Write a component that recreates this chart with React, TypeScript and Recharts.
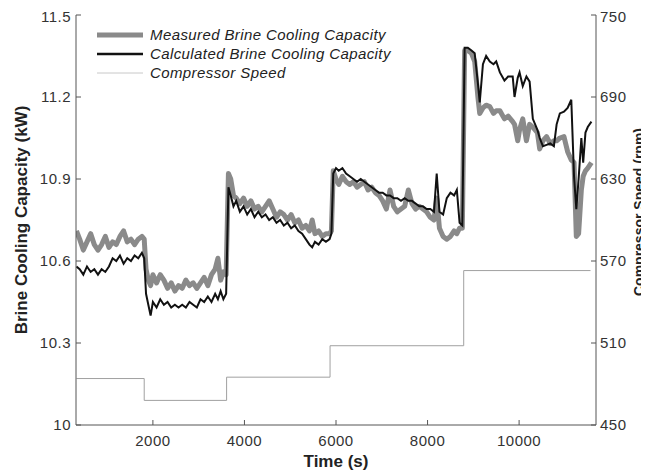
import React from 'react';
import { ComposedChart, Line, XAxis, YAxis } from 'recharts';

// time stamps (s) shared by the two brine cooling capacity series
const timeSec = [
  330, 400, 480, 560, 640, 720, 800, 880, 960, 1040, 1120, 1200, 1280, 1360, 1440, 1520, 1600, 1680, 1760, 1810,
  1850, 1900, 1950, 2000, 2080, 2160, 2240, 2320, 2400, 2480, 2560, 2640, 2720, 2800, 2880, 2960, 3040, 3120, 3200, 3280,
  3360, 3420, 3480, 3540, 3600,
  3650, 3700, 3760, 3820, 3900, 3980, 4060, 4140, 4220, 4300, 4380, 4460, 4540, 4620, 4700, 4780, 4860, 4940, 5020, 5100,
  5180, 5260, 5340, 5420, 5480, 5540, 5620, 5700, 5780, 5860, 5900,
  5940, 6000, 6060, 6140, 6220, 6300, 6380, 6460, 6540, 6620, 6700, 6780, 6860, 6940, 7020, 7100, 7180, 7260, 7340, 7420,
  7500, 7580, 7660, 7740, 7820, 7900, 7980, 8060, 8140, 8200, 8260, 8340, 8420, 8500, 8580, 8640, 8700, 8760,
  8810, 8880, 8960, 9030, 9100, 9140, 9210, 9280, 9360, 9440, 9500, 9580, 9680, 9760, 9860, 9900, 9970, 10010, 10080, 10160,
  10230, 10300, 10400, 10450, 10520, 10600, 10680, 10760, 10820, 10890, 10980, 11060, 11140, 11200, 11250, 11300, 11360, 11400, 11450, 11500,
  11580,
];

const measuredKw = [
  10.71, 10.68, 10.64, 10.67, 10.70, 10.66, 10.64, 10.66, 10.69, 10.65, 10.67, 10.66, 10.69, 10.71, 10.67, 10.68, 10.66, 10.68, 10.69, 10.68,
  10.57, 10.53, 10.51, 10.55, 10.52, 10.55, 10.53, 10.50, 10.52, 10.49, 10.51, 10.50, 10.53, 10.51, 10.52, 10.50, 10.52, 10.54, 10.51, 10.55,
  10.57, 10.61, 10.53, 10.56, 10.55,
  10.92, 10.90, 10.84, 10.83, 10.81, 10.83, 10.80, 10.82, 10.79, 10.80, 10.78, 10.80, 10.82, 10.79, 10.76, 10.78, 10.77, 10.75, 10.77, 10.74,
  10.75, 10.72, 10.73, 10.71, 10.75, 10.70, 10.71, 10.69, 10.70, 10.70, 10.71,
  10.93, 10.90, 10.88, 10.91, 10.89, 10.88, 10.89, 10.87, 10.88, 10.89, 10.86, 10.87, 10.85, 10.84, 10.82, 10.79, 10.86, 10.80, 10.78, 10.79,
  10.80, 10.86, 10.81, 10.79, 10.80, 10.79, 10.78, 10.76, 10.75, 10.83, 10.72, 10.69, 10.68, 10.69, 10.71, 10.70, 10.72, 10.72,
  11.37, 11.37, 11.36, 11.33, 11.20, 11.14, 11.16, 11.17, 11.165, 11.14, 11.15, 11.15, 11.12, 11.13, 11.11, 11.10, 11.04, 11.08, 11.12, 11.04,
  11.10, 11.09, 11.07, 11.01, 11.04, 11.055, 11.03, 11.04, 11.04, 11.05, 11.055, 11.00, 10.97, 10.96, 10.69, 10.70, 10.86, 10.91, 10.93, 10.94,
  10.96,
];

const calculatedKw = [
  10.58, 10.57, 10.55, 10.58, 10.56, 10.57, 10.55, 10.57, 10.56, 10.58, 10.61, 10.60, 10.62, 10.59, 10.61, 10.60, 10.62, 10.61, 10.63, 10.61,
  10.48, 10.44, 10.40, 10.45, 10.43, 10.46, 10.44, 10.45, 10.43, 10.44, 10.43, 10.44, 10.43, 10.45, 10.44, 10.43, 10.46, 10.45, 10.47, 10.45,
  10.48, 10.46, 10.49, 10.46, 10.48,
  10.87, 10.84, 10.80, 10.82, 10.78, 10.80, 10.77, 10.79, 10.76, 10.78, 10.76, 10.77, 10.75, 10.76, 10.74, 10.75, 10.73, 10.74, 10.72, 10.73,
  10.71, 10.70, 10.68, 10.66, 10.65, 10.67, 10.66, 10.68, 10.67, 10.68, 10.70,
  10.92, 10.94, 10.93, 10.94, 10.92, 10.91, 10.90, 10.89, 10.90, 10.89, 10.88, 10.87, 10.86, 10.85, 10.85, 10.84, 10.84, 10.83, 10.83, 10.82,
  10.83, 10.82, 10.82, 10.81, 10.80, 10.80, 10.79, 10.79, 10.78, 10.92, 10.78, 10.77, 10.83, 10.85, 10.84, 10.86, 10.74, 10.73,
  11.38, 11.38, 11.37, 11.36, 11.25, 11.18, 11.32, 11.35, 11.33, 11.32, 11.33, 11.29, 11.26, 11.275, 11.275, 11.20, 11.27, 11.29, 11.24, 11.275,
  11.256, 11.12, 11.08, 11.05, 11.02, 11.025, 11.03, 11.02, 11.10, 11.14, 11.146, 11.16, 11.19, 10.91, 10.79, 10.90, 11.05, 10.96, 11.07, 11.09,
  11.11,
];

// compressor speed steps (rpm)
const speedTimes = [330, 1810, 3610, 5870, 8790, 11560];
const speedRpm = [484, 468, 485, 508, 563, 563];

const xTicks = [2000, 4000, 6000, 8000, 10000];
const kwTicks = [10, 10.3, 10.6, 10.9, 11.2, 11.5];
const rpmTicks = [450, 510, 570, 630, 690, 750];

const brineData = timeSec.map((t, i) => ({ t, measured: measuredKw[i], calculated: calculatedKw[i] }));
const speedData = speedTimes.map((t, i) => ({ t, speed: speedRpm[i] }));

const FONT = '"Liberation Sans", Arial, Helvetica, sans-serif';
const AXIS = '#555';
const tickStyle = { fill: '#333', fontSize: 15, fontFamily: FONT, letterSpacing: 0.5 };

export default function App() {
  return (
    <div style={{ width: 641, height: 465 }}>
      <ComposedChart
        width={641}
        height={465}
        margin={{ top: 7, right: 0, bottom: 0, left: 0 }}
        style={{ fontFamily: FONT }}
      >
        <XAxis
          dataKey="t"
          type="number"
          domain={[320, 11680]}
          allowDataOverflow
          ticks={xTicks}
          height={48}
          tickSize={-5}
          tickMargin={15}
          stroke={AXIS}
          tick={tickStyle}
        />
        <XAxis
          xAxisId="top"
          orientation="top"
          dataKey="t"
          type="number"
          domain={[320, 11680]}
          allowDataOverflow
          ticks={xTicks}
          height={0}
          tickSize={-5}
          stroke={AXIS}
          tick={false}
        />
        <YAxis
          yAxisId="kw"
          type="number"
          domain={[10, 11.5]}
          allowDataOverflow
          ticks={kwTicks}
          width={68}
          tickSize={-5}
          tickMargin={10}
          stroke={AXIS}
          tick={tickStyle}
        />
        <YAxis
          yAxisId="rpm"
          orientation="right"
          type="number"
          domain={[450, 750]}
          allowDataOverflow
          ticks={rpmTicks}
          width={53}
          tickSize={-5}
          tickMargin={9}
          stroke={AXIS}
          tick={{ ...tickStyle, textAnchor: 'start' }}
        />

        <Line
          data={speedData}
          yAxisId="rpm"
          dataKey="speed"
          type="stepAfter"
          stroke="#a0a0a0"
          strokeWidth={1}
          dot={false}
          isAnimationActive={false}
        />
        <Line
          data={brineData}
          yAxisId="kw"
          dataKey="measured"
          type="linear"
          stroke="#8a8a8a"
          strokeWidth={5}
          strokeLinejoin="round"
          dot={false}
          isAnimationActive={false}
        />
        <Line
          data={brineData}
          yAxisId="kw"
          dataKey="calculated"
          type="linear"
          stroke="#111"
          strokeWidth={2}
          dot={false}
          isAnimationActive={false}
        />

        {/* axis titles */}
        <text
          x={13.5}
          y={212}
          transform="rotate(-90 13.5 212)"
          textAnchor="middle"
          dominantBaseline="central"
          fontSize={17}
          fontWeight="bold"
          fill="#222"
          fontFamily={FONT}
        >
          Brine Cooling Capacity (kW)
        </text>
        <text
          x={636}
          y={204}
          transform="rotate(-90 636 204)"
          textAnchor="middle"
          fontSize={14}
          fontWeight="bold"
          fill="#222"
          fontFamily={FONT}
        >
          Compressor Speed (rpm)
        </text>
        <text x={328} y={459} textAnchor="middle" fontSize={17} fontWeight="bold" fill="#222" fontFamily={FONT}>
          Time (s)
        </text>

        {/* legend */}
        <g fontFamily={FONT} fontSize={15} fontStyle="italic" fill="#222" letterSpacing={0.4}>
          <line x1={89} x2={135} y1={27} y2={27} stroke="#8a8a8a" strokeWidth={5} />
          <text x={142} y={32}>Measured Brine Cooling Capacity</text>
          <line x1={89} x2={135} y1={46} y2={46} stroke="#111" strokeWidth={2.5} />
          <text x={142} y={51}>Calculated Brine Cooling Capacity</text>
          <line x1={89} x2={135} y1={65} y2={65} stroke="#c8c8c8" strokeWidth={1} />
          <text x={142} y={70}>Compressor Speed</text>
        </g>
      </ComposedChart>
    </div>
  );
}
